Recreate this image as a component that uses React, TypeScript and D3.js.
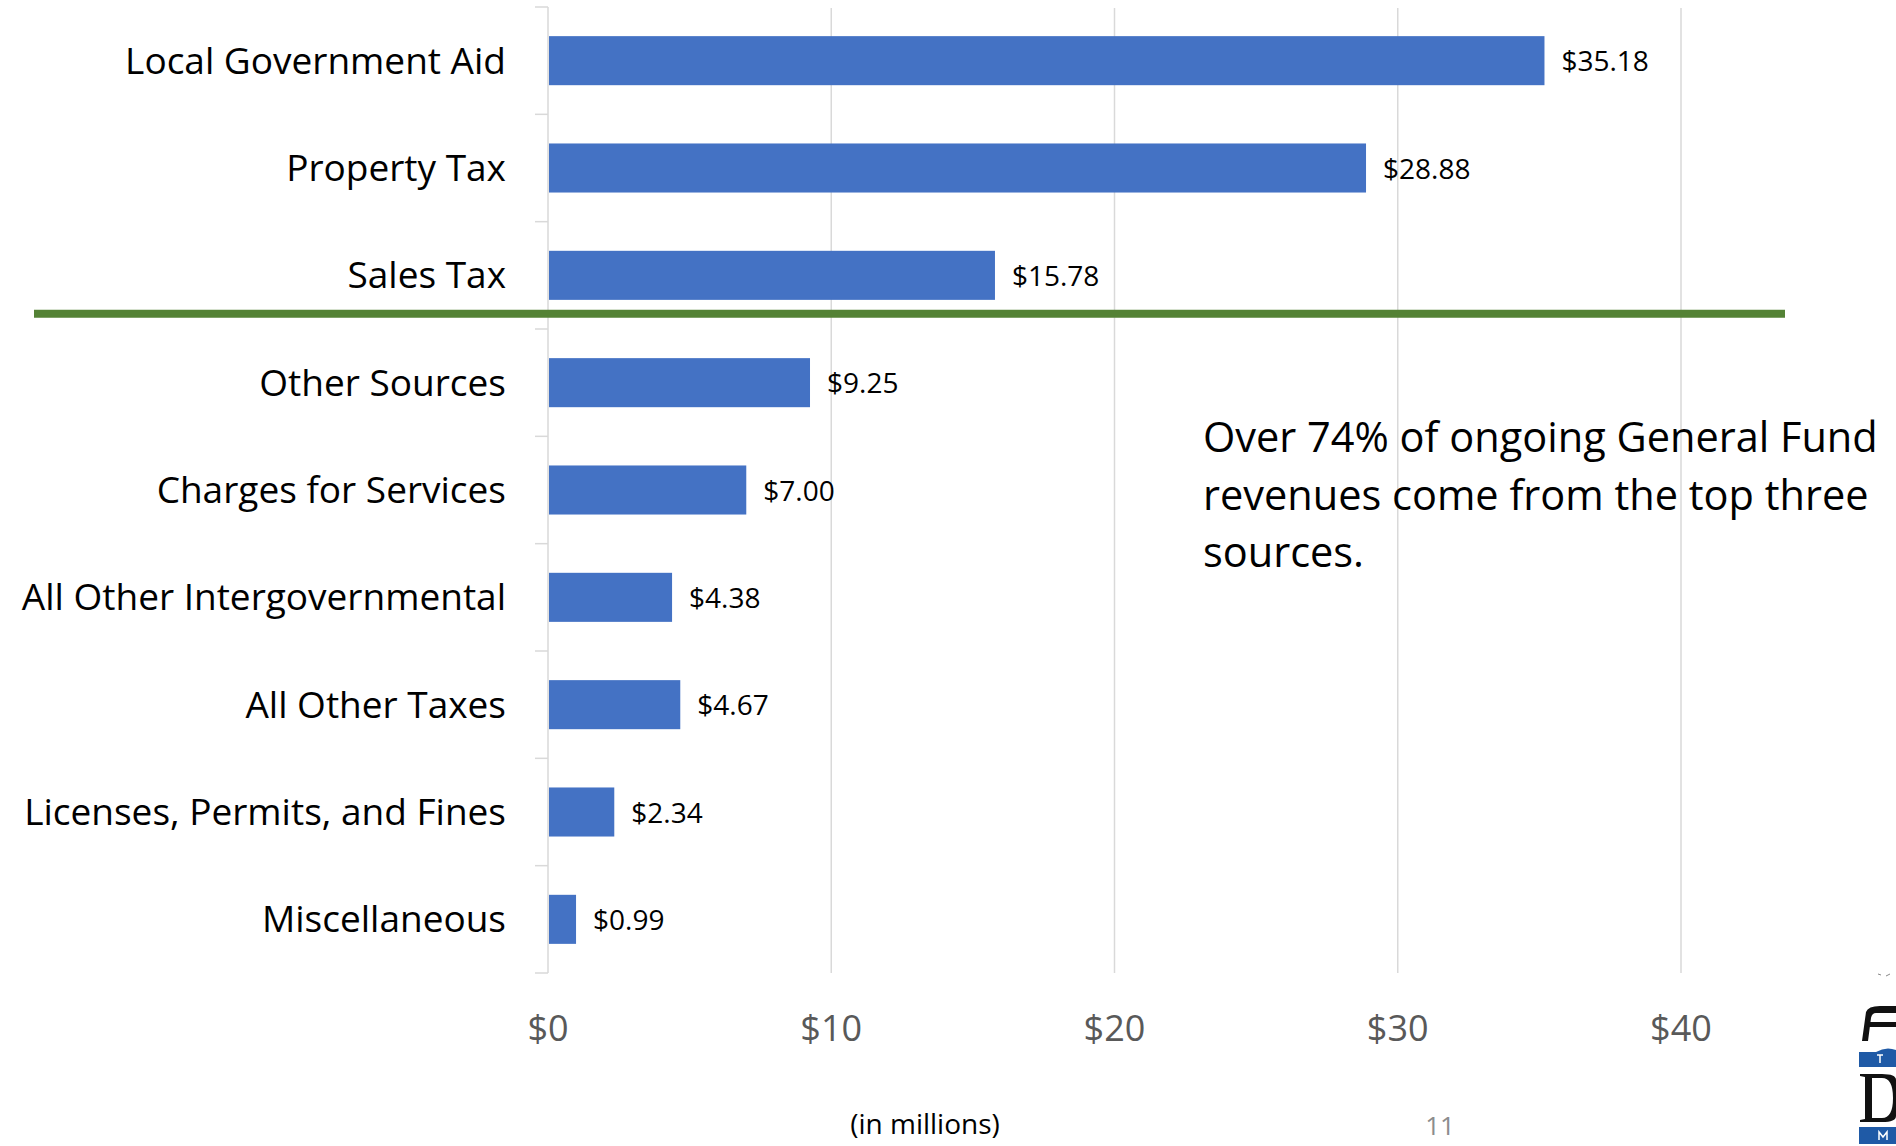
import React from 'react';
import * as d3 from 'd3';

// revenue sources, in millions
const CATEGORIES = [
  'Local Government Aid',
  'Property Tax',
  'Sales Tax',
  'Other Sources',
  'Charges for Services',
  'All Other Intergovernmental',
  'All Other Taxes',
  'Licenses, Permits, and Fines',
  'Miscellaneous',
];
const VALUES = [35.18, 28.88, 15.78, 9.25, 7.0, 4.38, 4.67, 2.34, 0.99];
const X_TICKS = [0, 10, 20, 30, 40];
const NOTE_LINES = [
  'Over 74% of ongoing General Fund',
  'revenues come from the top three',
  'sources.',
];
const TOP_COUNT = 3;

const W = 1896;
const H = 1146;
const FONT = "'Open Sans', 'Noto Sans', sans-serif";
const BAR_COLOR = '#4472c4';
const GRID_COLOR = '#d9d9d9';
const LOGO_BLUE = '#1f5aa6';

const App = () => {
  const x = d3.scaleLinear().domain([0, 40]).range([548, 1681]);
  const y = d3
    .scaleBand<string>()
    .domain(CATEGORIES)
    .range([7, 973])
    .paddingInner(0.543)
    .paddingOuter(0.2715);

  const [y0, y1] = y.range();
  const boundaries = d3.range(CATEGORIES.length + 1).map(i => y0 + i * y.step());
  const dividerY = (y(CATEGORIES[TOP_COUNT - 1]) ?? 0) + y.bandwidth() + 14;

  return (
    <svg
      width={W}
      height={H}
      style={{ position: 'absolute', left: 0, top: 0, display: 'block', background: '#fff' }}
      fontFamily={FONT}
    >
      {/* vertical gridlines */}
      {X_TICKS.filter(t => t > 0).map(t => (
        <line key={t} x1={x(t)} x2={x(t)} y1={y0 + 1} y2={y1} stroke={GRID_COLOR} strokeWidth={1.5} />
      ))}

      {/* category axis + ticks */}
      <line x1={x(0)} x2={x(0)} y1={y0} y2={y1} stroke={GRID_COLOR} strokeWidth={1.5} />
      {boundaries.map((b, i) => (
        <line key={i} x1={x(0) - 13} x2={x(0)} y1={b} y2={b} stroke={GRID_COLOR} strokeWidth={1.5} />
      ))}

      {/* bars */}
      {CATEGORIES.map((c, i) => (
        <rect
          key={c}
          x={x(0) + 1}
          y={y(c)}
          width={x(VALUES[i]) - x(0) - 1}
          height={y.bandwidth()}
          fill={BAR_COLOR}
        />
      ))}

      {/* category labels */}
      {CATEGORIES.map(c => (
        <text
          key={c}
          x={x(0) - 42}
          y={(y(c) ?? 0) + y.bandwidth() / 2}
          dy="0.35em"
          textAnchor="end"
          fontSize={37}
          fill="#000"
        >
          {c}
        </text>
      ))}

      {/* value labels */}
      {CATEGORIES.map((c, i) => (
        <text
          key={c}
          x={x(VALUES[i]) + 17}
          y={(y(c) ?? 0) + y.bandwidth() / 2 + 1}
          dy="0.35em"
          fontSize={28}
          fill="#000"
        >
          {`$${VALUES[i].toFixed(2)}`}
        </text>
      ))}

      {/* x tick labels */}
      {X_TICKS.map(t => (
        <text key={t} x={x(t)} y={1028} dy="0.35em" textAnchor="middle" fontSize={36} fill="#595959">
          {`$${t}`}
        </text>
      ))}

      {/* divider under the top three sources */}
      <line x1={34} x2={1785} y1={dividerY} y2={dividerY} stroke="#548235" strokeWidth={8} />

      {/* annotation */}
      <text x={1203} y={452} fontSize={41.5} fill="#000">
        {NOTE_LINES.map((l, i) => (
          <tspan key={i} x={1203} dy={i === 0 ? 0 : 57.5}>
            {l}
          </tspan>
        ))}
      </text>

      <text x={925} y={1124} dy="0.35em" textAnchor="middle" fontSize={28} fill="#000">
        (in millions)
      </text>
      <text x={1440} y={1126} dy="0.35em" textAnchor="middle" fontSize={26} fill="#8c8c8c">
        11
      </text>

      {/* partial logo at the slide edge */}
      <g>
        <path d="M1886,976 l4,-2 M1878,974 l3,1" stroke="#888" strokeWidth={1} />
        <path
          d="M1862,1041 L1866,1012 Q1868,1006 1880,1006 L1896,1006 L1896,1013 L1876,1013 Q1872,1013 1871,1018 L1868,1041 Z"
          fill="#111"
        />
        <path d="M1869,1022 L1896,1022 L1896,1027 L1868,1027 Z" fill="#111" />
        <path d="M1859,1067 L1859,1052 L1876,1052 Q1886,1046 1896,1050 L1896,1067 Z" fill={LOGO_BLUE} />
        <path d="M1877,1055 h6 M1880,1055 v8" stroke="#fff" strokeWidth={1.5} />
        {/* serif D, cut by the edge */}
        <path
          d="M1860,1074 L1882,1074 Q1896,1074 1896,1080 L1896,1116 Q1896,1122 1882,1122 L1860,1122 L1860,1120 L1865,1119 L1865,1077 L1860,1076 Z M1872,1078 L1872,1118 L1882,1118 Q1893,1118 1893,1098 Q1893,1078 1882,1078 Z"
          fill="#111"
          fillRule="evenodd"
        />
        <rect x={1859} y={1127} width={37} height={17} fill={LOGO_BLUE} />
        <path d="M1879,1140 v-8 l4,5 l4,-5 v8" stroke="#fff" strokeWidth={1.5} fill="none" />
      </g>
    </svg>
  );
};

export default App;
